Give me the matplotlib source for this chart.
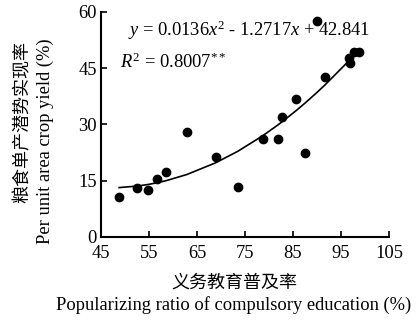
import matplotlib.pyplot as plt
import numpy as np

# compulsory education popularizing ratio (%) vs. realized yield potential (%)
edu_ratio = [48.8, 52.6, 54.9, 56.7, 58.6, 62.9, 68.9, 73.5, 78.7, 81.9,
             82.8, 85.6, 87.5, 89.9, 91.7, 96.7, 96.9, 97.6, 98.8]
yield_ratio = [10.7, 13.1, 12.5, 15.5, 17.3, 27.9, 21.4, 13.2, 26.1, 26.1,
               32.1, 36.8, 22.5, 57.7, 42.7, 47.6, 46.5, 49.2, 49.2]
coef = [0.0136, -1.2717, 42.841]

serif = ['Liberation Serif', 'DejaVu Serif']
cjk = ['Noto Sans CJK SC', 'DejaVu Sans']
plt.rcParams['font.family'] = serif
plt.rcParams['mathtext.fontset'] = 'custom'
plt.rcParams['mathtext.rm'] = 'Liberation Serif'
plt.rcParams['mathtext.it'] = 'Liberation Serif:italic'

fig = plt.figure(figsize=(4.17, 3.22), dpi=100)
ax = fig.add_axes([0.242, 0.264, 0.691, 0.699])

ax.scatter(edu_ratio, yield_ratio, s=36, color='black', zorder=3)

xs = np.sort(np.array(edu_ratio))
ax.plot(xs, np.polyval(coef, xs), color='black', lw=1.2)

ax.text(50.6, 55.0, r'$y$ = 0.0136$x^2$ - 1.2717$x$ + 42.841',
        fontsize=13.3, va='center')
ax.text(49.0, 46.6, r'$R^2$ = 0.8007$^{**}$', fontsize=13.3, va='center')

ax.set_xlim(45, 105)
ax.set_ylim(0, 60)
ax.set_xticks([45, 55, 65, 75, 85, 95, 105])
ax.set_yticks([0, 15, 30, 45, 60])
ax.tick_params(direction='in', length=4, width=1.2, labelsize=13.3)
ax.tick_params(axis='x', pad=6)
ax.tick_params(axis='y', pad=3)
for s in ['top', 'right']:
    ax.spines[s].set_visible(False)
for s in ['left', 'bottom']:
    ax.spines[s].set_linewidth(1.5)

fig.text(0.055, 0.621, '粮食单产潜势实现率', rotation=90, ha='center', va='center',
         family=cjk, fontsize=13, fontweight='light')
fig.text(0.108, 0.562, 'Per unit area crop yield (%)', rotation=90,
         ha='center', va='center', fontsize=13.3)
fig.text(0.561, 0.121, '义务教育普及率', ha='center', va='center',
         family=cjk, fontsize=13, fontweight='light')
fig.text(0.561, 0.053, 'Popularizing ratio of compulsory education (%)',
         ha='center', va='center', fontsize=13.3)

fig.savefig('out.png', dpi=100)
